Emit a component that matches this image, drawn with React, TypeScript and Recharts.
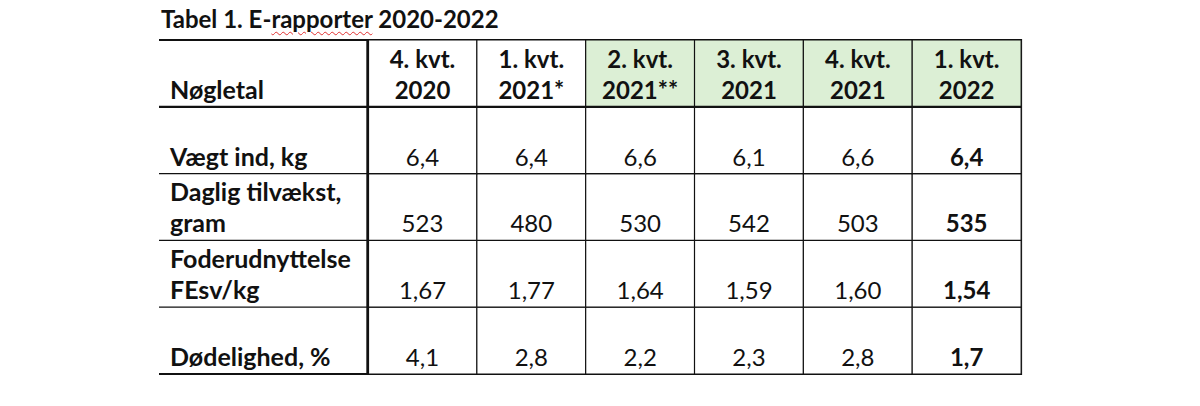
import React from 'react';
import { BarChart, Bar, XAxis, YAxis, Cell, LabelList, ReferenceLine, ReferenceArea } from 'recharts';

// ---- data ----
const title = 'Tabel 1. E-rapporter 2020-2022';
const headerLabel = 'Nøgletal';
const periodLine1 = ['4. kvt.', '1. kvt.', '2. kvt.', '3. kvt.', '4. kvt.', '1. kvt.'];
const periodLine2 = ['2020', '2021*', '2021**', '2021', '2021', '2022'];
const highlightedPeriods = [false, false, true, true, true, true];
const latestPeriod = [false, false, false, false, false, true];

const vaegtInd = [6.4, 6.4, 6.6, 6.1, 6.6, 6.4];
const dagligTilvaekst = [523, 480, 530, 542, 503, 535];
const foderudnyttelse = [1.67, 1.77, 1.64, 1.59, 1.6, 1.54];
const doedelighed = [4.1, 2.8, 2.2, 2.3, 2.8, 1.7];

const rowLabelVaegt = ['Vægt ind, kg'];
const rowLabelDaglig = ['Daglig tilvækst,', 'gram'];
const rowLabelFoder = ['Foderudnyttelse', 'FEsv/kg'];
const rowLabelDoed = ['Dødelighed, %'];

// ---- styling ----
const FONT = 'Lato, "Open Sans", sans-serif';
const FS = 24;
const FS_LABEL = 25;
const LINE = 31;
const PAD_BOTTOM = 8;
const GREEN = '#DCEFD5';

const fmt = (v: number, d: number) => v.toFixed(d).replace('.', ',');

const data = periodLine1.map((p, i) => ({
  period: `${p} ${periodLine2[i]}`,
  p1: p,
  p2: periodLine2[i],
  vaegt: fmt(vaegtInd[i], 1),
  daglig: String(dagligTilvaekst[i]),
  foder: fmt(foderudnyttelse[i], 2),
  doed: fmt(doedelighed[i], 1),
}));

// row labels keyed by the boundary value at the bottom of each row
const labelsByBottom: Record<number, string[]> = {
  4: [headerLabel],
  3: rowLabelVaegt,
  2: rowLabelDaglig,
  1: rowLabelFoder,
  0: rowLabelDoed,
};

const box = (props: any) => {
  const vb = props.viewBox && props.viewBox.width !== undefined ? props.viewBox : props;
  return { x: Number(vb.x), y: Number(vb.y), width: Number(vb.width), height: Number(vb.height) };
};

const valueCell = (props: any) => {
  const { x, y, width, height } = box(props);
  const idx = props.index ?? 0;
  return (
    <text
      x={x + width / 2}
      y={y + height - PAD_BOTTOM}
      textAnchor="middle"
      fontFamily={FONT}
      fontSize={FS}
      fontWeight={latestPeriod[idx] ? 700 : 400}
      fill="#111"
    >
      {props.value}
    </text>
  );
};

const headerCell = (props: any) => {
  const { x, y, width, height } = box(props);
  const idx = props.index ?? 0;
  const cx = x + width / 2;
  const base = y + height - PAD_BOTTOM;
  return (
    <g>
      <text x={cx} y={base - LINE} textAnchor="middle" fontFamily={FONT} fontSize={FS} fontWeight={700} fill="#111">
        {periodLine1[idx]}
      </text>
      <text x={cx} y={base} textAnchor="middle" fontFamily={FONT} fontSize={FS} fontWeight={700} fill="#111">
        {periodLine2[idx]}
      </text>
    </g>
  );
};

const RowLabelTick = (props: any) => {
  const { x, y, payload } = props;
  const v = Number(payload.value);
  const lines = labelsByBottom[v];
  const thick = v === 0 || v === 4 || v === 5;
  return (
    <g>
      {thick && <line x1={x + 2} x2={x + 2 + 208} y1={y} y2={y} stroke="#111" strokeWidth={2.2} />}
      {lines &&
        lines.map((t, i) => (
          <text
            key={i}
            x={x + 13}
            y={y - PAD_BOTTOM - (lines.length - 1 - i) * LINE}
            textAnchor="start"
            fontFamily={FONT}
            fontSize={FS_LABEL}
            fontWeight={700}
            fill="#111"
          >
            {t}
          </text>
        ))}
    </g>
  );
};

const one = () => 1;

export default function App() {
  return (
    <div style={{ position: 'relative', width: 1184, height: 390 }}>
      <div
        style={{
          position: 'absolute',
          left: 153,
          top: -1,
          fontFamily: FONT,
          fontWeight: 700,
          fontSize: 24,
          lineHeight: '24px',
          color: '#111',
          whiteSpace: 'nowrap',
        }}
      >
        {title.split('rapporter')[0]}
        <span style={{ textDecoration: 'underline wavy #e03030', textDecorationThickness: '1px', textUnderlineOffset: '3px' }}>
          rapporter
        </span>
        {title.split('rapporter')[1]}
      </div>
      <BarChart
        width={1184}
        height={390}
        data={data}
        margin={{ top: 32, right: 171, bottom: 24, left: 151 }}
        barCategoryGap={0}
        barGap={0}
      >
        <XAxis dataKey="period" type="category" hide />
        <YAxis
          yAxisId="labels"
          type="number"
          domain={[0, 5]}
          ticks={[0, 1, 2, 3, 4, 5]}
          width={208}
          tickSize={208}
          tickMargin={2}
          tickLine={{ stroke: '#111', strokeWidth: 1.2 }}
          axisLine={{ stroke: '#111', strokeWidth: 1.2 }}
          tick={<RowLabelTick />}
          interval={0}
        />
        <YAxis
          yAxisId="border"
          type="number"
          domain={[0, 5]}
          ticks={[0]}
          width={1}
          tick={false}
          tickLine={false}
          axisLine={{ stroke: '#111', strokeWidth: 2.2 }}
        />
        <Bar yAxisId="labels" dataKey={one} stackId="t" fill="#fff" stroke="#111" strokeWidth={1.2} isAnimationActive={false}>
          <LabelList dataKey="doed" content={valueCell} />
        </Bar>
        <Bar yAxisId="labels" dataKey={one} stackId="t" fill="#fff" stroke="#111" strokeWidth={1.2} isAnimationActive={false}>
          <LabelList dataKey="foder" content={valueCell} />
        </Bar>
        <Bar yAxisId="labels" dataKey={one} stackId="t" fill="#fff" stroke="#111" strokeWidth={1.2} isAnimationActive={false}>
          <LabelList dataKey="daglig" content={valueCell} />
        </Bar>
        <Bar yAxisId="labels" dataKey={one} stackId="t" fill="#fff" stroke="#111" strokeWidth={1.2} isAnimationActive={false}>
          <LabelList dataKey="vaegt" content={valueCell} />
        </Bar>
        <Bar yAxisId="labels" dataKey={one} stackId="t" fill="#fff" stroke="#111" strokeWidth={1.2} isAnimationActive={false}>
          {data.map((d, i) => (
            <Cell key={d.period} fill={highlightedPeriods[i] ? GREEN : '#fff'} />
          ))}
          <LabelList dataKey="p2" content={headerCell} />
        </Bar>
        <ReferenceLine yAxisId="labels" y={4} stroke="#111" strokeWidth={2.2} />
        <ReferenceArea
          yAxisId="labels"
          x1={data[0].period}
          x2={data[data.length - 1].period}
          y1={0}
          y2={5}
          fill="none"
          fillOpacity={0}
          stroke="#111"
          strokeWidth={2.2}
        />
      </BarChart>
    </div>
  );
}
